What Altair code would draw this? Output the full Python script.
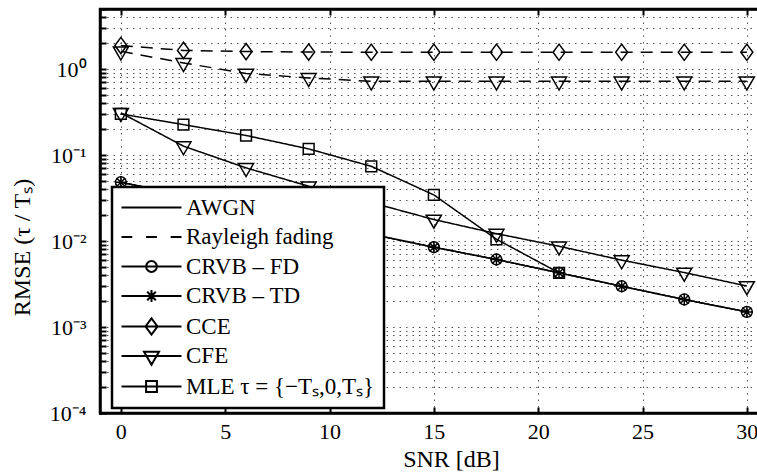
import altair as alt
import pandas as pd

# SNR grid of the simulation [dB]
SNR_DB = [0, 3, 6, 9, 12, 15, 18, 21, 24, 27, 30]

# AWGN channel results, RMSE normalised to the symbol period
CRVB_FD = [0.0483, 0.0341, 0.0241, 0.0170, 0.0120, 0.00848, 0.0061, 0.00427, 0.00298, 0.00209, 0.0015]
CRVB_TD = [0.0483, 0.0341, 0.0241, 0.0170, 0.0120, 0.00848, 0.0061, 0.00427, 0.00298, 0.00209, 0.0015]
CFE_AWGN = [0.31, 0.127, 0.071, 0.0434, 0.028, 0.0178, 0.0122, 0.0087, 0.006, 0.0043, 0.003]
MLE_AWGN = [0.301, 0.226, 0.169, 0.118, 0.074, 0.0344, 0.0105, 0.00427]  # SNR 0..21 dB

# Rayleigh fading results
CCE_RAYLEIGH = [1.88, 1.65, 1.6, 1.58, 1.57, 1.57, 1.57, 1.57, 1.57, 1.57, 1.57]
CFE_RAYLEIGH = [1.61, 1.18, 0.89, 0.79, 0.72, 0.72, 0.72, 0.72, 0.72, 0.72, 0.72]

X_TICKS = [0, 5, 10, 15, 20, 25, 30]
Y_TICKS = [float(f"{m}e{e}") for e in range(-4, 0) for m in range(1, 10)] + [1.0, 2.0, 3.0, 4.0, 5.0]

LEGEND_LABELS = ["AWGN", "Rayleigh fading", "CRVB \u2013 FD", "CRVB \u2013 TD",
                 "CCE", "CFE", "MLE \u03c4 = {\u2212T\u209b,0,T\u209b}"]

# marker outlines in symbol units (1 unit = sqrt(size)/2 px)
CIRCLE = "M-0.9,0A0.9,0.9 0 1,0 0.9,0A0.9,0.9 0 1,0 -0.9,0Z"
STAR = "M-1,0H1M0,-1V1M-0.72,-0.72L0.72,0.72M-0.72,0.72L0.72,-0.72"
DIAMOND = "M0,-1.35L1,0L0,1.35L-1,0Z"
TRIANGLE = "M-1.25,-0.72H1.25L0,1.45Z"
SQUARE = "M-0.9,-0.9H0.9V0.9H-0.9Z"
LINE = "M-5,0H5"
DASHES = "M-5,0H-3.2M-0.9,0H0.9M3.2,0H5"

MARKERS = ["circle", "star", "diamond", "triangle", "square"]
MARKER_PATHS = [CIRCLE, STAR, DIAMOND, TRIANGLE, SQUARE]
LEGEND_PATHS = [LINE, DASHES, LINE + CIRCLE, LINE + STAR, LINE + DIAMOND,
                LINE + TRIANGLE, LINE + SQUARE]

series = [
    ("CCE-R", CCE_RAYLEIGH, "diamond", "Rayleigh fading"),
    ("CFE-R", CFE_RAYLEIGH, "triangle", "Rayleigh fading"),
    ("CFE-A", CFE_AWGN, "triangle", "AWGN"),
    ("MLE-A", MLE_AWGN, "square", "AWGN"),
    ("FD-A", CRVB_FD, "circle", "AWGN"),
    ("TD-A", CRVB_TD, "star", "AWGN"),
]
rows = []
for name, vals, marker, channel in series:
    for snr, v in zip(SNR_DB, vals):
        rows.append({"snr": snr, "rmse": v, "series": name, "marker": marker, "channel": channel})
df = pd.DataFrame(rows)

legend_df = pd.DataFrame({"label": LEGEND_LABELS,
                          "snr": [SNR_DB[0]] * len(LEGEND_LABELS),
                          "rmse": [CFE_AWGN[0]] * len(LEGEND_LABELS)})

FONT = "Liberation Serif"
x_scale = alt.Scale(domain=[-1, 30.63], nice=False, zero=False)
y_scale = alt.Scale(type="log", domain=[1e-4, 5], nice=False)

label_expr = ("datum.value == 1 ? '10\u2070' : datum.value == 0.1 ? '10\u207b\u00b9' : "
              "datum.value == 0.01 ? '10\u207b\u00b2' : datum.value == 0.001 ? '10\u207b\u00b3' : "
              "datum.value == 0.0001 ? '10\u207b\u2074' : ''")

# main axes: inward ticks (negative offset), labels and dotted grid
y_axis = alt.Axis(values=Y_TICKS, labelExpr=label_expr, title="RMSE (\u03c4 / T\u209b)",
                  orient="left", offset=-6, tickSize=6, tickWidth=2, tickColor="black",
                  domain=False, grid=True, gridDash=[1.5, 5], gridColor="#555", gridWidth=1,
                  labelPadding=14, labelFontSize=22, labelFont=FONT, labelColor="black",
                  titleFontSize=24, titleFont=FONT, titleFontWeight="normal", titleColor="black",
                  titleX=-84, titleY=238, titleAngle=-90, titleAlign="center",
                  titleBaseline="middle")

x_axis_bottom = alt.Axis(values=X_TICKS, title="SNR [dB]", orient="bottom", offset=-6,
                         tickSize=6, tickWidth=2, tickColor="black", domain=False,
                         grid=True, gridDash=[1.5, 5], gridColor="#555", gridWidth=1,
                         labelPadding=8, labelFontSize=22, labelFont=FONT, labelColor="black",
                         titleFontSize=24, titleFont=FONT, titleFontWeight="normal",
                         titleColor="black", titleX=351, titleY=52, titleAlign="center",
                         titleBaseline="middle")

x_axis_top = alt.Axis(values=X_TICKS, title=None, orient="top", offset=-6, tickSize=6,
                      tickWidth=2, tickColor="black", domain=False, grid=False, labels=False)


def frame_axis(orient):
    # bare axis line used as one side of the box around the plot
    return alt.Axis(orient=orient, offset=0, domain=True, domainColor="black",
                    domainWidth=2.5, domainCap="square", ticks=False, labels=False,
                    grid=False, title=None)


lines = alt.Chart(df).mark_line(color="black", strokeWidth=1.5).encode(
    x=alt.X("snr:Q", scale=x_scale, axis=x_axis_bottom),
    y=alt.Y("rmse:Q", scale=y_scale, axis=y_axis),
    detail="series:N",
    strokeDash=alt.StrokeDash("channel:N", legend=None,
                              scale=alt.Scale(domain=["AWGN", "Rayleigh fading"],
                                              range=[[1, 0], [12, 8]])),
)

points = alt.Chart(df).mark_point(color="black", filled=False, strokeWidth=1.5,
                                  size=144, opacity=1).encode(
    x=alt.X("snr:Q", scale=x_scale, axis=frame_axis("bottom")),
    y=alt.Y("rmse:Q", scale=y_scale, axis=frame_axis("left")),
    shape=alt.Shape("marker:N", legend=None,
                    scale=alt.Scale(domain=MARKERS, range=MARKER_PATHS)),
)

top_edge = alt.Chart(legend_df).mark_point(opacity=0, size=144).encode(
    x=alt.X("snr:Q", scale=x_scale, axis=frame_axis("top")),
    y=alt.Y("rmse:Q", scale=y_scale, axis=None),
)

legend_layer = alt.Chart(legend_df).mark_point(opacity=0, size=144).encode(
    x=alt.X("snr:Q", scale=x_scale, axis=x_axis_top),
    y=alt.Y("rmse:Q", scale=y_scale, axis=None),
    shape=alt.Shape("label:N", sort=LEGEND_LABELS,
                    scale=alt.Scale(domain=LEGEND_LABELS, range=LEGEND_PATHS),
                    legend=alt.Legend(orient="none", legendX=12, legendY=178, title=None,
                                      direction="vertical", padding=9, rowPadding=5.5,
                                      symbolSize=144, symbolStrokeWidth=2,
                                      symbolStrokeColor="black", symbolFillColor="transparent",
                                      symbolOpacity=1, symbolOffset=19, labelOffset=23,
                                      labelFontSize=23, labelFont=FONT, labelColor="black",
                                      labelLimit=0, strokeColor="black", fillColor="white")),
)

chart = alt.layer(lines, points, top_edge, legend_layer).resolve_scale(
    shape="independent", strokeDash="independent"
).resolve_axis(x="independent", y="independent").properties(
    width=660, height=404,
    background="white",
    autosize=alt.AutoSizeParams(type="none"),
    padding={"left": 100, "top": 9, "right": -3, "bottom": 59},
).configure_view(stroke="black", strokeWidth=2.5).configure_legend(
    strokeWidth=2.5, cornerRadius=0
)

chart.save("out.html", embed_options={"renderer": "svg", "actions": False})
